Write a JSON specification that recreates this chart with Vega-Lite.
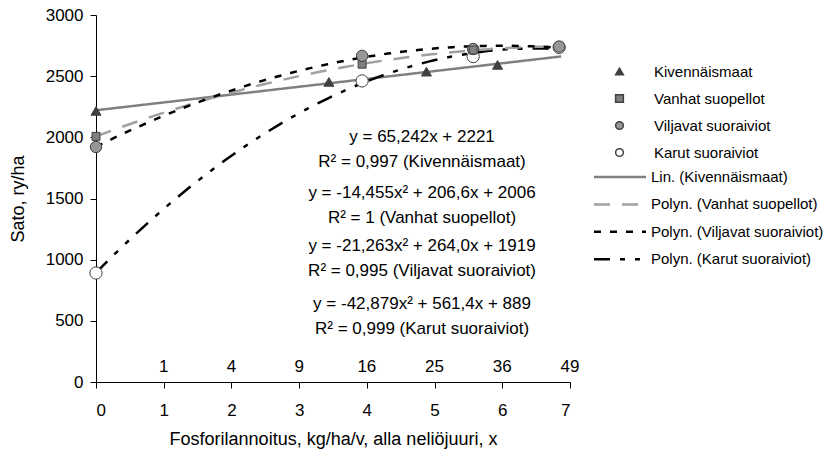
{
  "$schema": "https://vega.github.io/schema/vega-lite/v6.json",
  "width": 474,
  "height": 367,
  "autosize": {"type": "none"},
  "padding": {"left": 96, "top": 15, "right": 254, "bottom": 73},
  "background": "white",
  "config": {
    "view": {"stroke": null},
    "font": "Liberation Sans",
    "axis": {
      "grid": false,
      "domainColor": "#000000",
      "tickColor": "#000000",
      "labelColor": "#000000",
      "titleColor": "#000000",
      "labelFont": "Liberation Sans",
      "titleFont": "Liberation Sans",
      "labelFontSize": 17,
      "titleFontSize": 18,
      "titleFontWeight": "normal",
      "tickSize": 6
    },
    "legend": {
      "labelFont": "Liberation Sans",
      "labelFontSize": 15,
      "labelColor": "#000000",
      "labelLimit": 400,
      "padding": 0
    },
    "text": {"font": "Liberation Sans", "color": "#000000"}
  },
  "data": {
    "values": [
      {"series": "Karut suoraiviot", "trend": "Polyn. (Karut suoraiviot)", "x": 0, "y": 891},
      {"series": "Karut suoraiviot", "trend": "Polyn. (Karut suoraiviot)", "x": 3.93, "y": 2461},
      {"series": "Karut suoraiviot", "trend": "Polyn. (Karut suoraiviot)", "x": 5.57, "y": 2660},
      {"series": "Karut suoraiviot", "trend": "Polyn. (Karut suoraiviot)", "x": 6.84, "y": 2735},
      {"series": "Kivennäismaat", "trend": "Lin. (Kivennäismaat)", "x": 0, "y": 2216},
      {"series": "Kivennäismaat", "trend": "Lin. (Kivennäismaat)", "x": 3.44, "y": 2453},
      {"series": "Kivennäismaat", "trend": "Lin. (Kivennäismaat)", "x": 4.88, "y": 2537},
      {"series": "Kivennäismaat", "trend": "Lin. (Kivennäismaat)", "x": 5.93, "y": 2592},
      {"series": "Vanhat suopellot", "trend": "Polyn. (Vanhat suopellot)", "x": 0, "y": 2008},
      {"series": "Vanhat suopellot", "trend": "Polyn. (Vanhat suopellot)", "x": 3.93, "y": 2598},
      {"series": "Vanhat suopellot", "trend": "Polyn. (Vanhat suopellot)", "x": 5.57, "y": 2714},
      {"series": "Vanhat suopellot", "trend": "Polyn. (Vanhat suopellot)", "x": 6.84, "y": 2743},
      {"series": "Viljavat suoraiviot", "trend": "Polyn. (Viljavat suoraiviot)", "x": 0, "y": 1921},
      {"series": "Viljavat suoraiviot", "trend": "Polyn. (Viljavat suoraiviot)", "x": 3.93, "y": 2666},
      {"series": "Viljavat suoraiviot", "trend": "Polyn. (Viljavat suoraiviot)", "x": 5.57, "y": 2722},
      {"series": "Viljavat suoraiviot", "trend": "Polyn. (Viljavat suoraiviot)", "x": 6.84, "y": 2742}
    ]
  },
  "layer": [
    {
      "transform": [
        {"filter": "datum.trend === 'Lin. (Kivennäismaat)'"},
        {"regression": "y", "on": "x", "method": "linear", "groupby": ["trend"], "extent": [0, 6.87]}
      ],
      "mark": {"type": "line", "strokeWidth": 2.5},
      "encoding": {
        "x": {
          "field": "x", "type": "quantitative",
          "title": "Fosforilannoitus, kg/ha/v, alla neliöjuuri, x",
          "scale": {"domain": [0, 7], "nice": false, "zero": false},
          "axis": {"values": [0, 1, 2, 3, 4, 5, 6, 7], "format": "d", "labelPadding": 14, "titlePadding": 12}
        },
        "y": {
          "field": "y", "type": "quantitative",
          "title": "Sato, ry/ha",
          "scale": {"domain": [0, 3000], "nice": false},
          "axis": {"values": [0, 500, 1000, 1500, 2000, 2500, 3000], "format": "d", "labelPadding": 7, "titlePadding": 18}
        },
        "color": {
          "field": "trend", "type": "nominal",
          "scale": {
            "domain": ["Lin. (Kivennäismaat)", "Polyn. (Vanhat suopellot)", "Polyn. (Viljavat suoraiviot)", "Polyn. (Karut suoraiviot)"],
            "range": ["#808080", "#a0a0a0", "#000000", "#000000"]
          },
          "legend": {
            "title": null, "orient": "none", "legendX": 516, "legendY": 154,
            "symbolType": "M-4,0H4", "symbolSize": 169, "symbolStrokeWidth": 2.5,
            "labelOffset": 23, "rowPadding": 11.4
          }
        },
        "strokeDash": {
          "field": "trend", "type": "nominal",
          "scale": {
            "domain": ["Lin. (Kivennäismaat)", "Polyn. (Vanhat suopellot)", "Polyn. (Viljavat suoraiviot)", "Polyn. (Karut suoraiviot)"],
            "range": [[1, 0], [16, 12], [7, 9], [16, 10, 5, 10, 5, 10]]
          },
          "legend": {
            "title": null, "orient": "none", "legendX": 516, "legendY": 154,
            "symbolType": "M-4,0H4", "symbolSize": 169, "symbolStrokeWidth": 2.5,
            "labelOffset": 23, "rowPadding": 11.4
          }
        }
      }
    },
    {
      "transform": [
        {"filter": "datum.trend !== 'Lin. (Kivennäismaat)'"},
        {"regression": "y", "on": "x", "method": "poly", "order": 2, "groupby": ["trend"]}
      ],
      "mark": {"type": "line", "strokeWidth": 2.5},
      "encoding": {
        "x": {"field": "x", "type": "quantitative", "title": "Fosforilannoitus, kg/ha/v, alla neliöjuuri, x"},
        "y": {"field": "y", "type": "quantitative", "title": "Sato, ry/ha"},
        "color": {"field": "trend", "type": "nominal"},
        "strokeDash": {"field": "trend", "type": "nominal"}
      }
    },
    {
      "transform": [{"filter": "datum.series === 'Karut suoraiviot'"}],
      "mark": {"type": "point", "filled": true, "stroke": "#404040", "strokeWidth": 1, "opacity": 1, "size": 150},
      "encoding": {
        "x": {"field": "x", "type": "quantitative", "title": "Fosforilannoitus, kg/ha/v, alla neliöjuuri, x"},
        "y": {"field": "y", "type": "quantitative", "title": "Sato, ry/ha"},
        "shape": {
          "field": "series", "type": "nominal",
          "scale": {
            "domain": ["Kivennäismaat", "Vanhat suopellot", "Viljavat suoraiviot", "Karut suoraiviot"],
            "range": ["triangle-up", "square", "circle", "circle"]
          },
          "legend": {
            "title": null, "orient": "none", "legendX": 516, "legendY": 49,
            "symbolSize": 60, "labelOffset": 27, "rowPadding": 11,
            "encode": {"symbols": {"update": {"stroke": {"value": "#404040"}, "strokeWidth": {"value": 1}, "opacity": {"value": 1}}}}
          }
        },
        "fill": {
          "field": "series", "type": "nominal",
          "scale": {
            "domain": ["Kivennäismaat", "Vanhat suopellot", "Viljavat suoraiviot", "Karut suoraiviot"],
            "range": ["#404040", "#808080", "#969696", "#ffffff"]
          },
          "legend": {
            "title": null, "orient": "none", "legendX": 516, "legendY": 49,
            "symbolSize": 60, "labelOffset": 27, "rowPadding": 11,
            "encode": {"symbols": {"update": {"stroke": {"value": "#404040"}, "strokeWidth": {"value": 1}, "opacity": {"value": 1}}}}
          }
        }
      }
    },
    {
      "transform": [{"filter": "datum.series === 'Kivennäismaat'"}],
      "mark": {"type": "point", "filled": true, "stroke": "#404040", "strokeWidth": 1, "opacity": 1, "size": 100},
      "encoding": {
        "x": {"field": "x", "type": "quantitative", "title": "Fosforilannoitus, kg/ha/v, alla neliöjuuri, x"},
        "y": {"field": "y", "type": "quantitative", "title": "Sato, ry/ha"},
        "shape": {"field": "series", "type": "nominal"},
        "fill": {"field": "series", "type": "nominal"}
      }
    },
    {
      "transform": [{"filter": "datum.series === 'Viljavat suoraiviot' && datum.x === 5.57"}],
      "mark": {"type": "point", "filled": true, "stroke": "#404040", "strokeWidth": 1, "opacity": 1, "size": 130},
      "encoding": {
        "x": {"field": "x", "type": "quantitative", "title": "Fosforilannoitus, kg/ha/v, alla neliöjuuri, x"},
        "y": {"field": "y", "type": "quantitative", "title": "Sato, ry/ha"},
        "shape": {"field": "series", "type": "nominal"},
        "fill": {"field": "series", "type": "nominal"}
      }
    },
    {
      "transform": [{"filter": "datum.series === 'Vanhat suopellot'"}],
      "mark": {"type": "point", "filled": true, "stroke": "#404040", "strokeWidth": 1, "opacity": 1, "size": 64},
      "encoding": {
        "x": {"field": "x", "type": "quantitative", "title": "Fosforilannoitus, kg/ha/v, alla neliöjuuri, x"},
        "y": {"field": "y", "type": "quantitative", "title": "Sato, ry/ha"},
        "shape": {"field": "series", "type": "nominal"},
        "fill": {"field": "series", "type": "nominal"}
      }
    },
    {
      "transform": [{"filter": "datum.series === 'Viljavat suoraiviot' && datum.x !== 5.57"}],
      "mark": {"type": "point", "filled": true, "stroke": "#404040", "strokeWidth": 1, "opacity": 1, "size": 130},
      "encoding": {
        "x": {"field": "x", "type": "quantitative", "title": "Fosforilannoitus, kg/ha/v, alla neliöjuuri, x"},
        "y": {"field": "y", "type": "quantitative", "title": "Sato, ry/ha"},
        "shape": {"field": "series", "type": "nominal"},
        "fill": {"field": "series", "type": "nominal"}
      }
    },
    {
      "data": {
        "values": [
          {"x": 1, "lab": "1"}, {"x": 2, "lab": "4"}, {"x": 3, "lab": "9"}, {"x": 4, "lab": "16"},
          {"x": 5, "lab": "25"}, {"x": 6, "lab": "36"}, {"x": 7, "lab": "49"}
        ]
      },
      "mark": {"type": "text", "fontSize": 17, "baseline": "middle", "align": "center", "dy": -15},
      "encoding": {
        "x": {"field": "x", "type": "quantitative", "title": "Fosforilannoitus, kg/ha/v, alla neliöjuuri, x"},
        "y": {"datum": 0},
        "text": {"field": "lab"}
      }
    },
    {
      "data": {"values": [{"eq": 1}]},
      "mark": {"type": "text", "fontSize": 17, "baseline": "middle", "align": "center", "lineHeight": 25},
      "encoding": {
        "x": {"datum": 4.815},
        "y": {"datum": 1999},
        "text": {"value": ["y = 65,242x + 2221", "R² = 0,997 (Kivennäismaat)"]}
      }
    },
    {
      "data": {"values": [{"eq": 2}]},
      "mark": {"type": "text", "fontSize": 17, "baseline": "middle", "align": "center", "lineHeight": 25},
      "encoding": {
        "x": {"datum": 4.815},
        "y": {"datum": 1543},
        "text": {"value": ["y = -14,455x² + 206,6x + 2006", "R² = 1 (Vanhat suopellot)"]}
      }
    },
    {
      "data": {"values": [{"eq": 3}]},
      "mark": {"type": "text", "fontSize": 17, "baseline": "middle", "align": "center", "lineHeight": 25},
      "encoding": {
        "x": {"datum": 4.815},
        "y": {"datum": 1113},
        "text": {"value": ["y = -21,263x² + 264,0x + 1919", "R² = 0,995 (Viljavat suoraiviot)"]}
      }
    },
    {
      "data": {"values": [{"eq": 4}]},
      "mark": {"type": "text", "fontSize": 17, "baseline": "middle", "align": "center", "lineHeight": 25},
      "encoding": {
        "x": {"datum": 4.815},
        "y": {"datum": 636},
        "text": {"value": ["y = -42,879x² + 561,4x + 889", "R² = 0,999 (Karut suoraiviot)"]}
      }
    }
  ]
}
